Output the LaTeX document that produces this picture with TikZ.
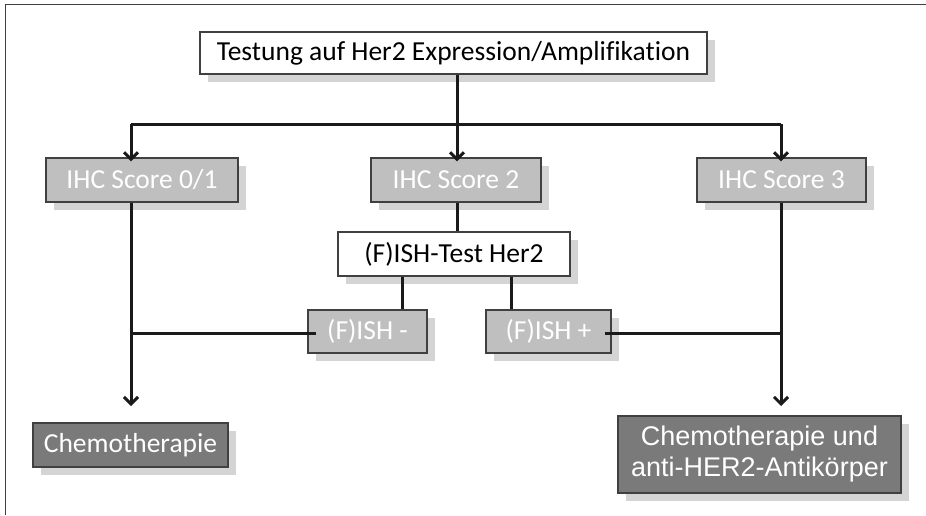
\documentclass[tikz,border=0pt]{standalone}
\usepackage{fontspec}
\setmainfont{Carlito}[Ligatures=NoCommon]
\newfontfamily\arialfont{Liberation Sans}
\usetikzlibrary{arrows.meta,shadows}
\definecolor{boxgray}{HTML}{BFBFBF}
\definecolor{darkbox}{HTML}{7A7A7A}
\definecolor{shadowgray}{HTML}{D4D4D4}
\definecolor{bordergray}{HTML}{404040}
\definecolor{linecol}{HTML}{1A1A1A}
\begin{document}
\begin{tikzpicture}[x=1pt,y=-1pt,
  box/.style={rectangle, draw=bordergray, line width=1.2pt, inner sep=0pt,
    font=\fontsize{27.5}{31}\selectfont,
    drop shadow={shadow xshift=8pt, shadow yshift=-8pt, fill=shadowgray, opacity=1, draw=none}},
  whitebox/.style={box, fill=white, text=black},
  graybox/.style={box, fill=boxgray, text=white},
  darkbox/.style={box, fill=darkbox, text=white},
  conn/.style={draw=linecol, line width=3pt},
  arr/.style={conn, -{Straight Barb[length=7pt,width=14pt,line width=3pt]}}
]
\useasboundingbox (0,0) rectangle (926,515);
\draw[bordergray, line width=1.5pt] (5.5,515) -- (5.5,4.5) -- (926,4.5);

\node[whitebox, minimum width=507pt, minimum height=42pt] (top) at (453.5,53) {Testung auf Her2 Expression/Amplifikation};
\node[graybox, minimum width=192pt, minimum height=44pt] (ihc01) at (142,180) {IHC Score 0/1};
\node[graybox, minimum width=170pt, minimum height=44pt] (ihc2) at (456,180) {IHC Score 2};
\node[graybox, minimum width=169pt, minimum height=44pt] (ihc3) at (781.5,180) {IHC Score 3};
\node[whitebox, minimum width=232pt, minimum height=44pt] (ish) at (454,254) {(F)ISH-Test Her2};
\node[graybox, minimum width=119pt, minimum height=43pt] (ishneg) at (367.5,331.5) {(F)ISH -};
\node[graybox, minimum width=125pt, minimum height=43pt] (ishpos) at (548.5,331.5) {(F)ISH +};
\node[darkbox, minimum width=195pt, minimum height=44pt] (chemo) at (130.5,445) {Chemotherapie};
\node[darkbox, minimum width=283pt, minimum height=77pt, align=center,
  font=\arialfont\fontsize{27}{31}\selectfont] (chemoher) at (759.5,454.5) {Chemotherapie und\\anti-HER2-Antikörper};

\coordinate (hl) at (131,124);
\coordinate (hm) at (457,124);
\coordinate (hr) at (781,124);
\coordinate (jl) at (131,333);
\coordinate (jr) at (781,333);
\coordinate (al) at (131,406);
\coordinate (ar) at (781,406);
\coordinate (xn) at (402,0);
\coordinate (xp) at (511,0);

\draw[conn] (top.south -| hm) -- (hm);
\draw[conn] (hl) -- (hr);
\draw[arr] (hl) -- ([yshift=-4pt]hl |- ihc01.north);
\draw[arr] (hm) -- ([yshift=-4pt]hm |- ihc2.north);
\draw[arr] (hr) -- ([yshift=-4pt]hr |- ihc3.north);
\draw[conn] (ihc2.south -| hm) -- (ish.north -| hm);
\draw[conn] (ish.south -| xn) -- (ishneg.north -| xn);
\draw[conn] (ish.south -| xp) -- (ishpos.north -| xp);
\draw[conn] ([xshift=9pt]ishneg.west |- jl) -- (jl);
\draw[conn] ([xshift=-7pt]ishpos.east |- jr) -- (jr);
\draw[arr] (ihc01.south -| hl) -- (al);
\draw[arr] (ihc3.south -| hr) -- (ar);
\end{tikzpicture}
\end{document}
